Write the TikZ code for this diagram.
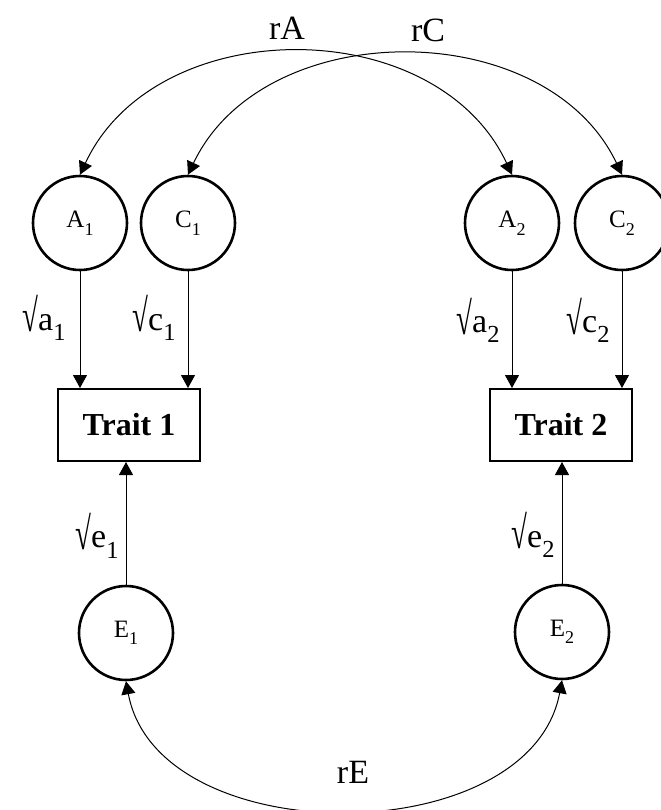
\documentclass[tikz,border=0pt]{standalone}
\usepackage{fontspec}
\setmainfont{Liberation Serif}
\usetikzlibrary{arrows.meta}
\newcommand{\lowsub}[1]{\raisebox{-0.3em}{\scalebox{0.72}{#1}}}
\newcommand{\rootsym}{\raisebox{-0.05em}{\scalebox{0.85}[1.35]{√}}}

\begin{document}
\begin{tikzpicture}[x=0.5pt,y=-0.5pt,
    latent/.style={draw,circle,line width=1.3pt,minimum size=47pt,inner sep=0pt,font=\fontsize{12.5}{14}\selectfont},
    trait/.style={draw,rectangle,line width=1pt,minimum width=71pt,minimum height=36pt,inner sep=0pt,font=\fontsize{16}{19}\selectfont\bfseries},
    arrowpath/.style={-{Triangle[length=6.5pt,width=7pt]},line width=0.5pt},
    twoway/.style={{Triangle[length=6.5pt,width=7pt]}-{Triangle[length=6.5pt,width=7pt]},line width=0.5pt},
    coef/.style={inner sep=0pt,font=\fontsize{17}{20}\selectfont},
    corr/.style={inner sep=0pt,anchor=base,font=\fontsize{17}{20}\selectfont}]
            \useasboundingbox (0,0) rectangle (660,810);
            \node [latent] (A1) at (80,223) {A\lowsub{1}};
            \node [latent] (C1) at (188,223) {C\lowsub{1}};
            \node [latent] (A2) at (512,223) {A\lowsub{2}};
            \node [latent] (C2) at (622,223) {C\lowsub{2}};
            \node [trait] (trait1) at (129,425) {Trait 1};
            \node [trait] (trait2) at (561,425) {Trait 2};
            \node [latent] (E1) at (126,633) {E\lowsub{1}};
            \node [latent] (E2) at (562,632) {E\lowsub{2}};
            \draw [arrowpath] (A1) -- (A1 |- trait1.north) node [coef,left=7pt,pos=0.4] (va1) {\rootsym a\lowsub{1}};
            \draw [arrowpath] (C1) -- (C1 |- trait1.north) node [coef,left=6pt,pos=0.4] (vc1) {\rootsym c\lowsub{1}};
            \draw [arrowpath] (A2) -- (A2 |- trait2.north) node [coef,left=6pt,pos=0.42] (va2) {\rootsym a\lowsub{2}};
            \draw [arrowpath] (C2) -- (C2 |- trait2.north) node [coef,left=6pt,pos=0.42] (vc2) {\rootsym c\lowsub{2}};
            \draw [arrowpath] (E1) -- (E1 |- trait1.south) node [coef,left=3.5pt,pos=0.4] (ve1) {\rootsym e\lowsub{1}};
            \draw [arrowpath] (E2) -- (E2 |- trait2.south) node [coef,left=3.5pt,pos=0.4] (ve2) {\rootsym e\lowsub{2}};
            \draw [twoway] (A1.north) .. controls +(76,-163) and +(-76,-163) .. (A2.north);
            \draw [twoway] (C1.north) .. controls +(76,-160) and +(-76,-160) .. (C2.north);
            \draw [twoway] (E1.south) .. controls +(32,172) and +(-32,172) .. (E2.south);
            \node [corr] (rA) at (287,39) {rA};
            \node [corr] (rC) at (428,41) {rC};
            \node [corr] (rE) at (353,783) {rE};
        \end{tikzpicture}
\end{document}
